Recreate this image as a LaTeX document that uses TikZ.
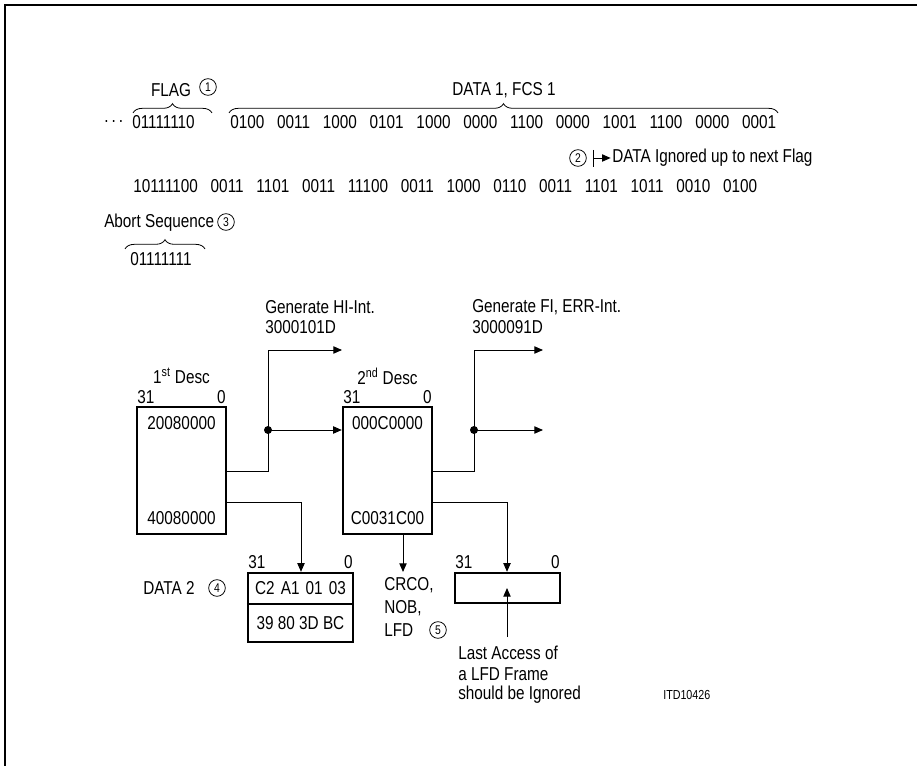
\documentclass[tikz,border=0pt]{standalone}
\usepackage{fontspec}
\setmainfont{Liberation Sans}[FakeStretch=0.82]
\usetikzlibrary{arrows.meta,decorations.pathreplacing}
\newcommand{\gs}{\hskip 9.6pt}
\newcommand{\ws}{\hskip 4.6pt}
\begin{document}
\begin{tikzpicture}[x=0.75pt,y=-0.75pt,
  every node/.style={inner sep=0pt,font=\fontsize{14}{16}\selectfont},
  txt/.style={anchor=west},
  num/.style={circle,draw,line width=0.6pt,minimum size=12.5pt,inner sep=0pt,font=\fontsize{9.5}{10}\selectfont},
  thin/.style={line width=0.7pt},
  arr/.style={thin,-{Triangle[length=6.5pt,width=5.5pt]}},
  reg/.style={draw,line width=1.8pt,rectangle},
  brc/.style={decorate,decoration={brace,amplitude=7pt},line width=0.6pt},
  dot/.style={circle,fill,minimum size=6pt,inner sep=0pt}]
\useasboundingbox (0,0) rectangle (917,766);
\draw[line width=1.1pt] (5,766) -- (5,5) -- (917,5);
% row 1
\node (flag) at (171,90) {FLAG};
\node[num] (c1) at (208,87) {1};
\node[txt] (dots) at (104,122) {.\,.\,.};
\node[txt] (f1) at (132,122) {01111110};
\node[txt] (d1) at (230,122) {0100\gs 0011\gs 1000\gs 0101\gs 1000\gs 0000\gs 1100\gs 0000\gs 1001\gs 1100\gs 0000\gs 0001};
\node (data1) at (504,90) {DATA 1, FCS 1};
\coordinate (b1l) at (133,113); \coordinate (b1r) at (212,113);
\coordinate (b2l) at (229,113); \coordinate (b2r) at (778,113);
\draw[brc] (b1l) -- (b1r);
\draw[brc] (b2l) -- (b2r);
% row 2
\node[num] (c2) at (578,158) {2};
\coordinate (tk1) at (593,150); \coordinate (tk2) at (593,167); \coordinate (tkm) at (593,158);
\draw[thin] (tk1) -- (tk2);
\node[txt] (ign) at (612,158) {DATA Ignored up to next Flag};
\draw[arr,shorten >=1pt] (tkm) -- (ign.west);
% row 3
\node[txt] (r3) at (133,186) {10111100\gs 0011\gs 1101\gs 0011\gs 11100\gs 0011\gs 1000\gs 0110\gs 0011\gs 1101\gs 1011\gs 0010\gs 0100};
\node[txt] (abort) at (104,223) {Abort Sequence};
\node[num] (c3) at (226,222) {3};
\node[txt] (f2) at (130,259) {01111111};
\coordinate (b3l) at (125,249); \coordinate (b3r) at (205,249);
\draw[brc] (b3l) -- (b3r);
% generate labels
\node[txt] (g1) at (265,307) {Generate HI-Int.};
\node[txt] (g1b) at (265,327) {3000101D};
\node[txt] (g2) at (472,307) {Generate FI, ERR-Int.};
\node[txt] (g2b) at (472,327) {3000091D};
% descriptor boxes
\node[reg,minimum width=66.75pt,minimum height=95.25pt] (box1) at (181.5,470.5) {};
\node[reg,minimum width=66.75pt,minimum height=95.25pt] (box2) at (387.5,470.5) {};
\node (b1t) at (181.5,423) {20080000};
\node (b1b) at (181.5,518) {40080000};
\node (b2t) at (387.5,423) {000C0000};
\node (b2b) at (387.5,518) {C0031C00};
\node (desc1) at (181.5,376) {1\textsuperscript{st} Desc};
\node (desc2) at (387.5,376) {2\textsuperscript{nd} Desc};
\node[anchor=west] (l131) at (137,397) {31};
\node[anchor=east] (l10) at (226,397) {0};
\node[anchor=west] (l231) at (343,397) {31};
\node[anchor=east] (l20) at (432,397) {0};
% connectors box1
\coordinate (j1) at (268,471); \coordinate (top1) at (268,350); \coordinate (ar1) at (342,350);
\draw[arr] (box1.east |- j1) -- (j1) -- (top1) -- (ar1);
\node[dot] (dot1) at (268,430) {};
\draw[arr] (dot1.center) -- (box2.west |- dot1);
\coordinate (k1) at (301,502);
% data box
\node[reg,minimum width=78.75pt,minimum height=51.75pt] (dbox) at (300.5,607.5) {};
\coordinate (dv) at (300.5,604);
\draw[line width=1.8pt] (dbox.west |- dv) -- (dbox.east |- dv);
\node (dA) at (300.5,588) {C2\ws A1\ws 01\ws 03};
\node (dB) at (300.5,623) {39 80 3D BC};
\node[anchor=west] (d31) at (248,562) {31};
\node[anchor=east] (d0) at (353,562) {0};
\draw[arr] (box1.east |- k1) -- (k1) -- (dbox.north -| k1);
\node[txt] (data2) at (143,588) {DATA 2};
\node[num] (c4) at (217,588) {4};
% connectors box2
\coordinate (j2) at (474,471); \coordinate (top2) at (474,350); \coordinate (ar2) at (543,350);
\draw[arr] (box2.east |- j2) -- (j2) -- (top2) -- (ar2);
\node[dot] (dot2) at (474,430) {};
\coordinate (ar2b) at (543,430);
\draw[arr] (dot2.center) -- (ar2b);
\coordinate (cr) at (403,572);
\draw[arr] (box2.south -| cr) -- (cr);
\node[txt] (crco) at (384,585) {CRCO,};
\node[txt] (nob) at (384,608) {NOB,};
\node[txt] (lfd) at (384,630) {LFD};
\node[num] (c5) at (438,630) {5};
% third box
\node[reg,minimum width=78.75pt,minimum height=22.5pt] (box3) at (507.5,588) {};
\node[anchor=west] (e31) at (455,562) {31};
\node[anchor=east] (e0) at (560,562) {0};
\coordinate (k2) at (507,502);
\draw[arr] (box2.east |- k2) -- (k2) -- (box3.north -| k2);
\coordinate (up0) at (507,637); \coordinate (up1) at (507,588);
\draw[arr] (up0) -- (up1);
\node[txt] (la1) at (458,653) {Last Access of};
\node[txt] (la2) at (458,674) {a LFD Frame};
\node[txt] (la3) at (458,695) {should be Ignored};
\node[txt,font=\fontsize{9.8}{11}\selectfont] (itd) at (663,695) {ITD10426};
\end{tikzpicture}
\end{document}
